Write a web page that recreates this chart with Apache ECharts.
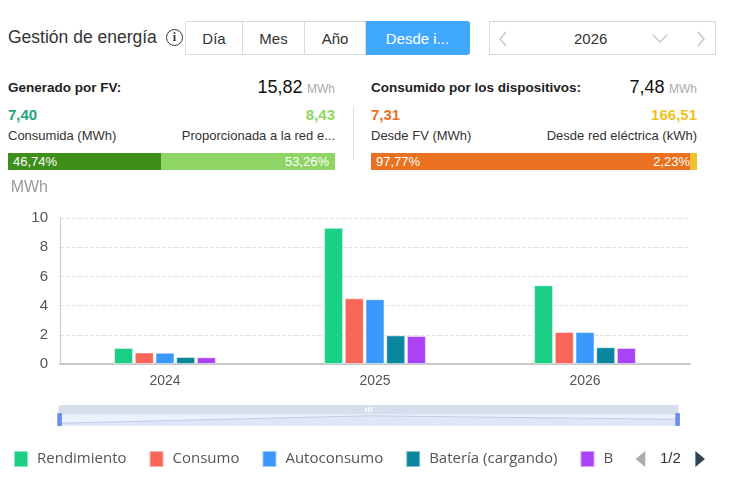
<!DOCTYPE html>
<html>
<head>
<meta charset="utf-8">
<script src="https://cdn.jsdelivr.net/npm/echarts@6/dist/echarts.min.js"></script>
<style>
  body { margin:0; width:729px; height:486px; background:#fff; font-family:Arial,"Liberation Sans",sans-serif; overflow:hidden; position:relative; }
  .abs { position:absolute; white-space:nowrap; }
  .title { left:8px; top:27px; font-size:17.5px; color:#333; }
  .info { left:166px; top:29px; width:15px; height:15px; border:1.5px solid #333; border-radius:50%; font-size:12px; line-height:15px; text-align:center; color:#333; font-weight:bold; font-family:serif; }
  .btns { left:185px; top:21px; height:34px; display:flex; }
  .btns div { border:1px solid #d9d9d9; border-left:none; height:34px; line-height:34px; text-align:center; font-size:15px; color:#333; box-sizing:border-box; }
  .btns div:first-child { border-left:1px solid #d9d9d9; border-radius:2px 0 0 2px; }
  .btns .on { background:#40a9ff; border-color:#40a9ff; color:#fff; border-radius:0 3px 3px 0; }
  .picker { left:489px; top:21px; width:227px; height:34px; border:1px solid #d9d9d9; box-sizing:border-box; font-size:15px; color:#333; }
  .picker span { position:absolute; top:8px; }
  .picker svg { position:absolute; }
  .lbl { font-size:13px; color:#333; }
  .bold { font-weight:bold; font-size:13.5px; color:#222; }
  .big { font-size:18px; color:#111; font-weight:500; }
  .unit { font-size:12px; color:#aaa; }
  .num { font-size:15px; font-weight:bold; }
  .bar { height:17px; display:flex; font-size:13px; color:#fff; line-height:17px; }
  #chart { position:absolute; left:0; top:172px; width:729px; height:314px; }
</style>
</head>
<body>
<div class="abs title">Gestión de energía</div>
<div class="abs info">i</div>
<div class="abs btns">
  <div style="width:58px">Día</div>
  <div style="width:62px">Mes</div>
  <div style="width:61px">Año</div>
  <div class="on" style="width:104px">Desde i...</div>
</div>
<div class="abs picker">
  <svg style="left:8px;top:9px" width="10" height="16"><polyline points="8,1 2,8 8,15" fill="none" stroke="#c4c4c4" stroke-width="1.3"/></svg>
  <span style="left:84px">2026</span>
  <svg style="left:162px;top:12px" width="16" height="10"><polyline points="1,1 8,8 15,1" fill="none" stroke="#c4c4c4" stroke-width="1.3"/></svg>
  <svg style="left:206px;top:9px" width="10" height="16"><polyline points="2,1 8,8 2,15" fill="none" stroke="#c4c4c4" stroke-width="1.3"/></svg>
</div>

<div class="abs bold" style="left:8px;top:80px">Generado por FV:</div>
<div class="abs" style="right:394px;top:77px"><span class="big">15,82</span> <span class="unit">MWh</span></div>
<div class="abs num" style="left:8px;top:106px;color:#1fa77a">7,40</div>
<div class="abs num" style="right:394px;top:106px;color:#8fd961">8,43</div>
<div class="abs lbl" style="left:8px;top:128px">Consumida (MWh)</div>
<div class="abs lbl" style="right:394px;top:128px">Proporcionada a la red e...</div>
<div class="abs bar" style="left:8px;top:153px;width:327px">
  <div style="width:153px;background:#3e8e1a;padding-left:5px;box-sizing:border-box">46,74%</div>
  <div style="flex:1;background:#8ed566;text-align:right;padding-right:6px">53,26%</div>
</div>
<div class="abs" style="left:353px;top:107px;width:1px;height:53px;background:#ddd"></div>

<div class="abs bold" style="left:371px;top:80px">Consumido por los dispositivos:</div>
<div class="abs" style="right:32px;top:77px"><span class="big">7,48</span> <span class="unit">MWh</span></div>
<div class="abs num" style="left:371px;top:106px;color:#e8731f">7,31</div>
<div class="abs num" style="right:32px;top:106px;color:#f0bf22">166,51</div>
<div class="abs lbl" style="left:371px;top:128px">Desde FV (MWh)</div>
<div class="abs lbl" style="right:32px;top:128px">Desde red eléctrica (kWh)</div>
<div class="abs bar" style="left:371px;top:153px;width:326px">
  <div style="width:319px;background:#ea7120;padding-left:5px;box-sizing:border-box;position:relative">97,77%<span style="position:absolute;right:0">2,23%</span></div>
  <div style="flex:1;background:#f2c12e"></div>
</div>

<div id="chart"></div>
<script>
var years = ['2024', '2025', '2026'];
var seriesNames = ['Rendimiento', 'Consumo', 'Autoconsumo', 'Batería (cargando)', 'Batería (descargando)'];
var rendimiento = [1.10, 9.33, 5.39];
var consumo = [0.79, 4.50, 2.19];
var autoconsumo = [0.77, 4.44, 2.19];
var bateriaCarga = [0.48, 1.96, 1.15];
var bateriaDescarga = [0.46, 1.92, 1.10];
var colors = ['#1ccf86', '#f8665a', '#3a98fb', '#0a879f', '#aa42f6'];
var yTicks = [0, 2, 4, 6, 8, 10];

var myChart = echarts.init(document.getElementById('chart'));
var values = [rendimiento, consumo, autoconsumo, bateriaCarga, bateriaDescarga];
var series = [];
for (var i = 0; i < seriesNames.length; i++) {
    series.push({
        name: seriesNames[i],
        type: 'bar',
        data: values[i],
        barWidth: 19,
        barGap: '9%',
        itemStyle: { color: colors[i], borderColor: 'rgba(255,255,255,0.5)', borderWidth: 1 }
    });
}
var option = {
    color: colors,
    animation: false,
    grid: { left: 60, right: 39, top: 46, bottom: 122 },
    legend: {
        type: 'scroll',
        left: 8,
        width: 692,
        top: 273,
        itemWidth: 14,
        itemHeight: 16,
        itemGap: 22,
        icon: 'rect',
        textStyle: { fontSize: 15, color: '#555', padding: [0, 0, 0, 4], fontFamily: '"Open Sans", sans-serif' },
        pageIconSize: [11, 16],
        pageIconColor: '#2f4554',
        pageIconInactiveColor: '#aaa',
        pageTextStyle: { fontSize: 15, color: '#333' },
        pageButtonItemGap: 8,
        pageButtonGap: 22
    },
    xAxis: {
        type: 'category',
        data: years,
        axisTick: { show: false },
        axisLine: { lineStyle: { color: '#c8c8c8', width: 2 } },
        axisLabel: { fontSize: 14, color: '#555', margin: 10 }
    },
    yAxis: {
        type: 'value',
        min: 0,
        max: 10,
        interval: 2,
        name: 'MWh',
        nameGap: 22,
        nameTextStyle: { fontSize: 16, color: '#999', align: 'right', padding: [0, 12, 0, 0] },
        axisLine: { show: true, lineStyle: { color: '#c8c8c8' } },
        axisLabel: { fontSize: 15, color: '#555', margin: 12,
            formatter: function (v) { return yTicks.indexOf(v) >= 0 ? String(v) : ''; } },
        splitLine: { lineStyle: { color: '#e3e3e3', type: 'dashed' } }
    },
    dataZoom: [{
        type: 'slider',
        left: 55,
        right: 54,
        top: 233,
        height: 12,
        start: 0,
        end: 100,
        showDetail: false,
        brushSelect: true,
        moveHandleSize: 9,
        moveHandleStyle: { color: '#d6deee', opacity: 1 },
        handleIcon: 'path://M0,0H3V10H0Z',
        handleSize: '100%',
        handleStyle: { color: '#6e8fe6', borderColor: '#6e8fe6' },
        borderColor: '#dde3ee',
        fillerColor: 'rgba(200,215,250,0.35)'
    }],
    series: series
};
myChart.setOption(option);
window.onresize = function () {
    myChart.resize();
};
</script>
</body>
</html>
